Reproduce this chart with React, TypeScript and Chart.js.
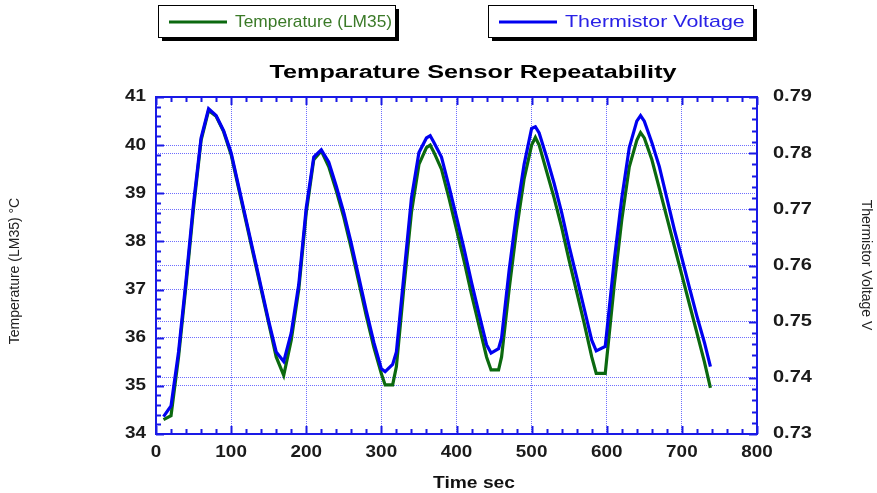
import React, { useEffect, useRef } from "react";
import { Chart, registerables } from "chart.js";

Chart.register(...registerables);

const timeSec = [
  10, 20, 30, 40, 50, 60, 70, 80, 90, 100, 110, 120, 130, 140, 150, 160, 170, 180, 190, 200,
  210, 220, 230, 240, 250, 260, 270, 280, 290, 300, 305, 315, 320, 330, 340, 350, 360, 365, 370, 380, 390,
  400, 410, 420, 430, 440, 446, 456, 460, 470, 480, 490, 500, 505, 510, 520, 530, 540, 550, 560, 570, 580,
  586, 598, 610, 620, 630, 640, 645, 650, 660, 670, 680, 690, 700, 710, 720, 730, 738,
];

const temperatureLM35 = [
  34.3, 34.38, 35.6, 37.1, 38.7, 40.1, 40.72, 40.6, 40.28, 39.8, 39.1, 38.4, 37.7, 37.0, 36.3, 35.6, 35.22, 35.95, 37.0, 38.6,
  39.7, 39.88, 39.55, 39.05, 38.5, 37.85, 37.15, 36.45, 35.8, 35.25, 35.02, 35.02, 35.4, 37.05, 38.6, 39.6, 39.95, 40.0, 39.85, 39.5, 38.9,
  38.25, 37.6, 36.9, 36.25, 35.6, 35.33, 35.33, 35.6, 37.0, 38.25, 39.3, 40.0, 40.16, 40.0, 39.45, 38.9, 38.29, 37.6, 36.95, 36.3, 35.6,
  35.26, 35.26, 37.1, 38.45, 39.55, 40.1, 40.26, 40.15, 39.7, 39.1, 38.5, 37.9, 37.3, 36.7, 36.1, 35.5, 34.96,
];

const thermistorVoltage = [
  0.7331, 0.735, 0.7446, 0.7574, 0.7711, 0.7827, 0.7879, 0.7867, 0.784, 0.7801, 0.7741, 0.7681, 0.7621, 0.7561, 0.7501, 0.7446, 0.7429, 0.748, 0.7566, 0.7703,
  0.7793, 0.7806, 0.7784, 0.7741, 0.7694, 0.7639, 0.7579, 0.7519, 0.7463, 0.7416, 0.7411, 0.7424, 0.7446, 0.7583, 0.772, 0.7801, 0.7827, 0.7831, 0.7819, 0.7793, 0.7741,
  0.7686, 0.763, 0.757, 0.7514, 0.7459, 0.7444, 0.7452, 0.7471, 0.7591, 0.7694, 0.778, 0.7844, 0.7847, 0.7836, 0.7793, 0.7746, 0.7694, 0.7634, 0.7579, 0.7523, 0.7467,
  0.7448, 0.7456, 0.7609, 0.772, 0.781, 0.7857, 0.7867, 0.7857, 0.7819, 0.7776, 0.772, 0.7664, 0.7613, 0.7561, 0.751, 0.7463, 0.742,
];

const xTickLabels = ["0", "100", "200", "300", "400", "500", "600", "700", "800"];
const leftTickLabels = ["34", "35", "36", "37", "38", "39", "40", "41"];
const rightTickLabels = ["0.73", "0.74", "0.75", "0.76", "0.77", "0.78", "0.79"];

const titleText = "Temparature Sensor Repeatability";
const xTitle = "Time sec";
const leftTitle = "Temperature (LM35) °C";
const rightTitle = "Thermistor Voltage V";
const seriesNames = ["Temperature (LM35)", "Thermistor Voltage"];

const GREEN = "#0b690f";
const BLUE = "#0000f0";
const FRAME = "#1a1ae6";
const GRID = "#6e6eff";
const FONT = '"Liberation Sans", Arial, sans-serif';

function drawText(
  ctx: CanvasRenderingContext2D,
  s: string,
  x: number,
  y: number,
  font: string,
  color: string,
  align: CanvasTextAlign,
  sx = 1,
  rot = 0
) {
  ctx.save();
  ctx.translate(x, y);
  if (rot) ctx.rotate(rot);
  ctx.scale(sx, 1);
  ctx.font = font;
  ctx.fillStyle = color;
  ctx.textAlign = align;
  ctx.textBaseline = "middle";
  ctx.fillText(s, 0, 0);
  ctx.restore();
}

const decorPlugin = {
  id: "decor",
  afterDraw(chart: any) {
    const ctx: CanvasRenderingContext2D = chart.ctx;
    const { left, right, top, bottom } = chart.chartArea;
    const sx = chart.scales.x;
    const sl = chart.scales.y;
    const sr = chart.scales.y1;

    ctx.save();
    ctx.strokeStyle = FRAME;
    ctx.lineWidth = 2;
    ctx.beginPath();
    for (let v = 0; v <= 800; v += 20) {
      const px = Math.round(sx.getPixelForValue(v)) + 0.5;
      const len = v % 100 === 0 ? 8 : 5;
      ctx.moveTo(px, bottom);
      ctx.lineTo(px, bottom - len);
      ctx.moveTo(px, top);
      ctx.lineTo(px, top + len);
    }
    for (let i = 0; i <= 35; i++) {
      const v = 34 + i * 0.2;
      const py = Math.round(sl.getPixelForValue(v)) + 0.5;
      const len = i % 5 === 0 ? 8 : 5;
      ctx.moveTo(left, py);
      ctx.lineTo(left + len, py);
    }
    for (let i = 0; i <= 30; i++) {
      const v = 0.73 + i * 0.002;
      const py = Math.round(sr.getPixelForValue(v)) + 0.5;
      const len = i % 5 === 0 ? 8 : 5;
      ctx.moveTo(right, py);
      ctx.lineTo(right - len, py);
    }
    ctx.stroke();

    ctx.lineWidth = 2;
    ctx.strokeStyle = FRAME;
    ctx.strokeRect(left, top, right - left, bottom - top);

    const tickFont = `bold 16px ${FONT}`;
    xTickLabels.forEach((l) => {
      drawText(ctx, l, sx.getPixelForValue(Number(l)), 453, tickFont, "#1a1a1a", "center", 1.18);
    });
    leftTickLabels.forEach((l) => {
      drawText(ctx, l, left - 10, sl.getPixelForValue(Number(l)), tickFont, "#1a1a1a", "right", 1.18);
    });
    rightTickLabels.forEach((l) => {
      drawText(ctx, l, right + 16, sr.getPixelForValue(Number(l)), tickFont, "#1a1a1a", "left", 1.25);
    });

    drawText(ctx, titleText, 473, 73, `bold 18px ${FONT}`, "#000", "center", 1.4);
    drawText(ctx, xTitle, 474, 484, `bold 16px ${FONT}`, "#111", "center", 1.2);
    drawText(ctx, leftTitle, 15, 271, `14px ${FONT}`, "#222", "center", 1, -Math.PI / 2);
    drawText(ctx, rightTitle, 866, 265, `14px ${FONT}`, "#222", "center", 1, Math.PI / 2);

    const boxes = [
      { x: 158, w: 237, color: GREEN, text: "#3b7a28", name: seriesNames[0], sx: 1.02 },
      { x: 488, w: 265, color: BLUE, text: "#2a22e6", name: seriesNames[1], sx: 1.26 },
    ];
    boxes.forEach((b) => {
      const y = 5;
      const h = 32;
      ctx.fillStyle = "#000";
      ctx.fillRect(b.x + 4, y + 4, b.w, h);
      ctx.fillStyle = "#fff";
      ctx.fillRect(b.x, y, b.w, h);
      ctx.strokeStyle = "#000";
      ctx.lineWidth = 1;
      ctx.strokeRect(b.x + 0.5, y + 0.5, b.w, h);
      ctx.strokeStyle = b.color;
      ctx.lineWidth = 3;
      ctx.beginPath();
      ctx.moveTo(b.x + 11, y + 17);
      ctx.lineTo(b.x + 69, y + 17);
      ctx.stroke();
      drawText(ctx, b.name, b.x + 77, y + 17, `17px ${FONT}`, b.text, "left", b.sx);
    });
    ctx.restore();
  },
};

export default function App() {
  const ref = useRef<HTMLCanvasElement | null>(null);

  useEffect(() => {
    if (!ref.current) return;
    const gridOpts = { color: GRID, lineWidth: 1, drawTicks: false };
    const borderOpts = { display: false, dash: [1, 1] };
    const chart = new Chart(ref.current, {
      type: "line",
      data: {
        datasets: [
          {
            label: seriesNames[0],
            data: timeSec.map((t, i) => ({ x: t, y: temperatureLM35[i] })),
            borderColor: GREEN,
            borderWidth: 3.2,
            pointRadius: 0,
            tension: 0,
            yAxisID: "y",
            order: 1,
          },
          {
            label: seriesNames[1],
            data: timeSec.map((t, i) => ({ x: t, y: thermistorVoltage[i] })),
            borderColor: BLUE,
            borderWidth: 3.2,
            pointRadius: 0,
            tension: 0,
            yAxisID: "y1",
            order: 0,
          },
        ],
      },
      options: {
        animation: false,
        responsive: false,
        maintainAspectRatio: false,
        layout: { padding: { top: 97, left: 0, right: 0, bottom: 0 } },
        plugins: { legend: { display: false }, title: { display: false }, tooltip: { enabled: false } },
        scales: {
          x: {
            type: "linear",
            min: 0,
            max: 800,
            ticks: { stepSize: 100, display: false },
            grid: gridOpts,
            border: borderOpts,
            afterFit: (s: any) => {
              s.height = 59;
            },
          },
          y: {
            type: "linear",
            position: "left",
            min: 34,
            max: 41,
            ticks: { stepSize: 1, display: false },
            grid: gridOpts,
            border: borderOpts,
            afterFit: (s: any) => {
              s.width = 156;
            },
          },
          y1: {
            type: "linear",
            position: "right",
            min: 0.73,
            max: 0.79,
            ticks: { stepSize: 0.01, display: false },
            grid: gridOpts,
            border: borderOpts,
            afterFit: (s: any) => {
              s.width = 120;
            },
          },
        },
      },
      plugins: [decorPlugin],
    });
    return () => chart.destroy();
  }, []);

  return (
    <div style={{ position: "absolute", left: 0, top: 0, width: 877, height: 493, background: "#fff" }}>
      <canvas ref={ref} width={877} height={493} style={{ display: "block" }} />
    </div>
  );
}
